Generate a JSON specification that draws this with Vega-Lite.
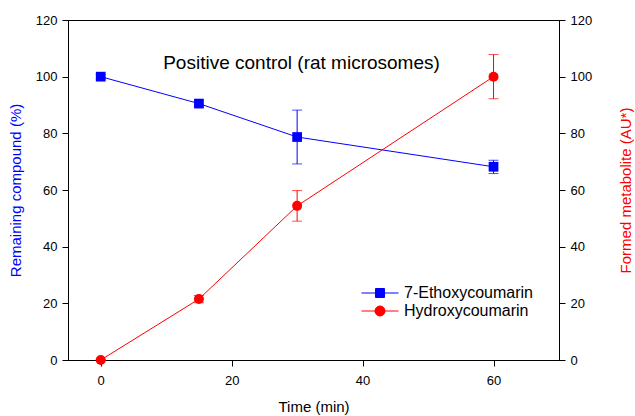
{
  "$schema": "https://vega.github.io/schema/vega-lite/v6.json",
  "width": 491,
  "height": 340,
  "autosize": {"type": "none"},
  "padding": {"left": 68, "top": 20, "right": 76, "bottom": 56},
  "config": {
    "font": "Liberation Sans",
    "view": {"stroke": "#000000", "strokeWidth": 1},
    "axis": {"grid": false, "domainColor": "#000000", "tickColor": "#000000", "labelColor": "#000000", "labelFontSize": 13, "titleFontSize": 15, "titleFontWeight": "normal", "tickSize": 6, "labelPadding": 5},
    "legend": {"orient": "none", "title": null, "padding": 0, "symbolSize": 100, "symbolStrokeWidth": 1, "labelFontSize": 16, "labelOffset": 16, "labelColor": "#000000", "symbolOpacity": 1}
  },
  "title": {"text": "Positive control (rat microsomes)", "fontSize": 19, "fontWeight": "normal", "frame": "group", "offset": -59, "dx": -12, "color": "#000000"},
  "data": {
    "values": [
      {"series": "7-Ethoxycoumarin", "t": 0, "v": 100, "lo": 99.2, "hi": 100.8},
      {"series": "7-Ethoxycoumarin", "t": 15, "v": 90.5, "lo": 89.6, "hi": 91.4},
      {"series": "7-Ethoxycoumarin", "t": 30, "v": 78.7, "lo": 69.2, "hi": 88.2},
      {"series": "7-Ethoxycoumarin", "t": 60, "v": 68.2, "lo": 65.8, "hi": 70.5},
      {"series": "Hydroxycoumarin", "t": 0, "v": 0, "lo": 0, "hi": 0},
      {"series": "Hydroxycoumarin", "t": 15, "v": 21.5, "lo": 20.2, "hi": 22.8},
      {"series": "Hydroxycoumarin", "t": 30, "v": 54.4, "lo": 49.0, "hi": 59.8},
      {"series": "Hydroxycoumarin", "t": 60, "v": 100, "lo": 92.2, "hi": 107.8}
    ]
  },
  "encoding": {
    "x": {"field": "t", "type": "quantitative", "scale": {"domain": [-5, 70], "nice": false, "zero": false}, "axis": {"values": [0, 20, 40, 60], "title": "Time (min)", "labelPadding": 8, "titlePadding": 12}}
  },
  "layer": [
    {
      "transform": [{"filter": "datum.series === '7-Ethoxycoumarin'"}],
      "layer": [
        {"mark": {"type": "rule", "color": "#0000ff", "strokeWidth": 1}, "encoding": {"y": {"field": "lo", "type": "quantitative", "scale": {"domain": [0, 120]}, "axis": {"orient": "left", "values": [0, 20, 40, 60, 80, 100, 120], "title": "Remaining compound (%)", "titleColor": "#0000ff", "titlePadding": 12}}, "y2": {"field": "hi"}}},
        {"mark": {"type": "tick", "orient": "horizontal", "color": "#0000ff", "size": 10, "thickness": 1}, "encoding": {"y": {"field": "lo", "type": "quantitative", "scale": {"domain": [0, 120]}, "axis": {"orient": "left", "values": [0, 20, 40, 60, 80, 100, 120], "title": "Remaining compound (%)", "titleColor": "#0000ff", "titlePadding": 12}}}},
        {"mark": {"type": "tick", "orient": "horizontal", "color": "#0000ff", "size": 10, "thickness": 1}, "encoding": {"y": {"field": "hi", "type": "quantitative", "scale": {"domain": [0, 120]}, "axis": {"orient": "left", "values": [0, 20, 40, 60, 80, 100, 120], "title": "Remaining compound (%)", "titleColor": "#0000ff", "titlePadding": 12}}}},
        {"mark": {"type": "line", "color": "#0000ff", "strokeWidth": 1}, "encoding": {"y": {"field": "v", "type": "quantitative", "scale": {"domain": [0, 120]}, "axis": {"orient": "left", "values": [0, 20, 40, 60, 80, 100, 120], "title": "Remaining compound (%)", "titleColor": "#0000ff", "titlePadding": 12}}}},
        {"mark": {"type": "point", "shape": "square", "filled": true, "size": 95, "opacity": 1}, "encoding": {
          "y": {"field": "v", "type": "quantitative", "scale": {"domain": [0, 120]}, "axis": {"orient": "left", "values": [0, 20, 40, 60, 80, 100, 120], "title": "Remaining compound (%)", "titleColor": "#0000ff", "titlePadding": 12}},
          "fill": {"field": "series", "type": "nominal", "scale": {"domain": ["7-Ethoxycoumarin"], "range": ["#0000ff"]},
            "legend": {"orient": "none", "legendX": 304, "legendY": 265, "symbolType": "M-3.7,0H3.7M-0.9,-0.9H0.9V0.9H-0.9Z", "symbolStrokeColor": "#0000ff", "symbolFillColor": "#0000ff"}}
        }}
      ]
    },
    {
      "transform": [{"filter": "datum.series === 'Hydroxycoumarin'"}],
      "layer": [
        {"mark": {"type": "rule", "color": "#ff0000", "strokeWidth": 1}, "encoding": {"y": {"field": "lo", "type": "quantitative", "scale": {"domain": [0, 120]}, "axis": {"orient": "right", "values": [0, 20, 40, 60, 80, 100, 120], "title": "Formed metabolite (AU*)", "titleColor": "#ff0000", "titleAngle": 270, "titleBaseline": "top", "titlePadding": 27}}, "y2": {"field": "hi"}}},
        {"mark": {"type": "tick", "orient": "horizontal", "color": "#ff0000", "size": 10, "thickness": 1}, "encoding": {"y": {"field": "lo", "type": "quantitative", "scale": {"domain": [0, 120]}, "axis": {"orient": "right", "values": [0, 20, 40, 60, 80, 100, 120], "title": "Formed metabolite (AU*)", "titleColor": "#ff0000", "titleAngle": 270, "titleBaseline": "top", "titlePadding": 27}}}},
        {"mark": {"type": "tick", "orient": "horizontal", "color": "#ff0000", "size": 10, "thickness": 1}, "encoding": {"y": {"field": "hi", "type": "quantitative", "scale": {"domain": [0, 120]}, "axis": {"orient": "right", "values": [0, 20, 40, 60, 80, 100, 120], "title": "Formed metabolite (AU*)", "titleColor": "#ff0000", "titleAngle": 270, "titleBaseline": "top", "titlePadding": 27}}}},
        {"mark": {"type": "line", "color": "#ff0000", "strokeWidth": 1}, "encoding": {"y": {"field": "v", "type": "quantitative", "scale": {"domain": [0, 120]}, "axis": {"orient": "right", "values": [0, 20, 40, 60, 80, 100, 120], "title": "Formed metabolite (AU*)", "titleColor": "#ff0000", "titleAngle": 270, "titleBaseline": "top", "titlePadding": 27}}}},
        {"mark": {"type": "point", "shape": "circle", "filled": true, "size": 100, "opacity": 1}, "encoding": {
          "y": {"field": "v", "type": "quantitative", "scale": {"domain": [0, 120]}, "axis": {"orient": "right", "values": [0, 20, 40, 60, 80, 100, 120], "title": "Formed metabolite (AU*)", "titleColor": "#ff0000", "titleAngle": 270, "titleBaseline": "top", "titlePadding": 27}},
          "color": {"field": "series", "type": "nominal", "scale": {"domain": ["Hydroxycoumarin"], "range": ["#ff0000"]},
            "legend": {"orient": "none", "legendX": 304, "legendY": 283, "symbolType": "M-3.7,0H3.7M1,0A1,1 0 1 1 -1,0A1,1 0 1 1 1,0Z", "symbolStrokeColor": "#ff0000", "symbolFillColor": "#ff0000"}}
        }}
      ]
    }
  ],
  "resolve": {"scale": {"y": "independent"}}
}
